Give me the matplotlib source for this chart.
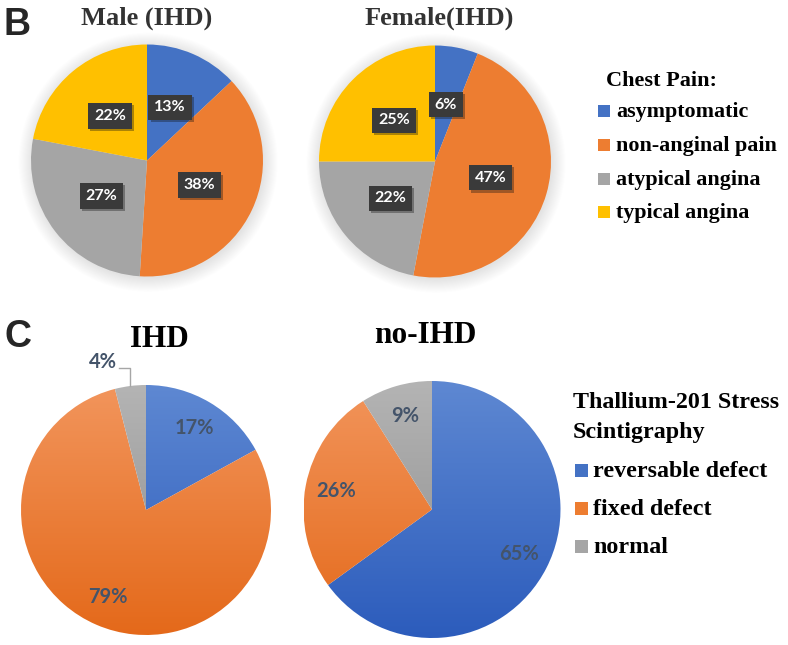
import numpy as np
import matplotlib
matplotlib.use("Agg")
import matplotlib.pyplot as plt
import matplotlib.patheffects as pe
from matplotlib.patches import Rectangle, Circle
from matplotlib.colors import LinearSegmentedColormap

# chart data
chest_pain = ["asymptomatic", "non-anginal pain", "atypical angina", "typical angina"]
male_ihd = [13, 38, 27, 22]
female_ihd = [6, 47, 22, 25]

thallium = ["reversable defect", "fixed defect", "normal"]
ihd = [17, 79, 4]
no_ihd = [65, 26, 9]

chest_colors = ["#4472C4", "#ED7D31", "#A5A5A5", "#FFC000"]
thal_colors = ["#4472C4", "#ED7D31", "#A5A5A5"]
thal_top = ["#5E88D2", "#F2955C", "#B4B4B4"]
thal_bottom = ["#2C5CBC", "#E4691A", "#8C8C8C"]

W, H = 788, 645
SERIF = "Liberation Serif"
SANS = "Liberation Sans"
LBL = ["Lato", "DejaVu Sans"]
M = 1.35  # axes half-width in pie radii

fig = plt.figure(figsize=(W / 100, H / 100), dpi=100)


def fx(x):
    return x / W


def fy(y):
    return 1 - y / H


def pie_axes(cx, cy, r):
    ax = fig.add_axes([fx(cx - M * r), fy(cy + M * r), 2 * M * r / W, 2 * M * r / H])
    return ax


def fix_axes(ax):
    ax.set_xlim(-M, M)
    ax.set_ylim(-M, M)
    ax.set_aspect("equal")
    ax.axis("off")


def chest_pie(cx, cy, r, values):
    ax = pie_axes(cx, cy, r)
    # soft glow behind the pie
    for i in range(14):
        ax.add_patch(Circle((0.01, -0.015), 1 + 0.009 * i, color="k", alpha=0.007, lw=0, zorder=0))
    wedges, _, autotexts = ax.pie(values, colors=chest_colors, startangle=90, counterclock=False,
                                  autopct=lambda p: f"{p:.0f}%", pctdistance=0.5,
                                  wedgeprops=dict(linewidth=0),
                                  textprops=dict(color="white", fontsize=11.5, fontweight="bold", family=LBL))
    for t in autotexts:
        t.set_bbox(dict(boxstyle="square,pad=0.36", fc="#3a3a3a", ec="none"))
        t.get_bbox_patch().set_path_effects([pe.SimplePatchShadow(offset=(1.5, -1.5), alpha=0.35), pe.Normal()])
    fix_axes(ax)
    return ax


def thal_pie(cx, cy, r, values):
    ax = pie_axes(cx, cy, r)
    wedges, _, autotexts = ax.pie(values, startangle=90, counterclock=False,
                                  autopct=lambda p: f"{p:.0f}%", pctdistance=0.76,
                                  textprops=dict(color="#44546A", fontsize=14.5, fontweight="bold", family=LBL))
    grad = np.linspace(0, 1, 256).reshape(-1, 1)
    for w, top, bot in zip(wedges, thal_top, thal_bottom):
        w.set_facecolor("none")
        w.set_edgecolor("none")
        cmap = LinearSegmentedColormap.from_list("g", [top, bot])
        im = ax.imshow(grad, cmap=cmap, extent=(-1, 1, -1, 1), origin="upper", aspect="auto", zorder=0.5)
        im.set_clip_path(w)
    fix_axes(ax)
    return ax, wedges, autotexts


# panel B
chest_pie(147, 160.5, 116, male_ihd)
chest_pie(435, 161.5, 116, female_ihd)
fig.text(fx(147), fy(25), "Male (IHD)", family=SERIF, fontweight="bold", fontsize=19,
         color="#333333", ha="center", va="baseline")
fig.text(fx(439), fy(25), "Female(IHD)", family=SERIF, fontweight="bold", fontsize=19,
         color="#333333", ha="center", va="baseline")
fig.text(fx(4), fy(35), "B", family=SANS, fontweight="bold", fontsize=27, color="#262626",
         ha="left", va="baseline")

fig.text(fx(606), fy(86), "Chest Pain:", family=SERIF, fontweight="bold", fontsize=16,
         color="black", ha="left", va="baseline")
for i, (name, col) in enumerate(zip(chest_pain, chest_colors)):
    base = 117 + 33.8 * i
    fig.patches.append(Rectangle((fx(598), fy(base)), 12 / W, 12 / H, fc=col, ec="none",
                                 transform=fig.transFigure, figure=fig))
    fig.text(fx(616), fy(base), name, family=SERIF, fontweight="bold", fontsize=15.8,
             color="black", ha="left", va="baseline")

# panel C
ax_ihd, w_ihd, t_ihd = thal_pie(146, 510, 125, ihd)
thal_pie(432, 509.5, 128.5, no_ihd)

# small 4% slice gets an outside label with a leader line
w = w_ihd[2]
mid = np.deg2rad((w.theta1 + w.theta2) / 2)
x0, y0 = np.cos(mid), np.sin(mid)
t_ihd[2].set_position((x0 - 0.11, y0 + 0.19))
t_ihd[2].set_ha("right")
ax_ihd.plot([x0, x0, x0 - 0.09], [y0, y0 + 0.145, y0 + 0.145], color="#A6A6A6", lw=1, clip_on=False)

fig.text(fx(159), fy(347), "IHD", family=SERIF, fontweight="bold", fontsize=22.5,
         color="black", ha="center", va="baseline")
fig.text(fx(425.5), fy(343), "no-IHD", family=SERIF, fontweight="bold", fontsize=22.5,
         color="black", ha="center", va="baseline")
fig.text(fx(4), fy(347), "C", family=SANS, fontweight="bold", fontsize=27, color="#262626",
         ha="left", va="baseline")

fig.text(fx(573), fy(408), "Thallium-201 Stress", family=SERIF, fontweight="bold", fontsize=17.3,
         color="black", ha="left", va="baseline")
fig.text(fx(573), fy(438), "Scintigraphy", family=SERIF, fontweight="bold", fontsize=17.3,
         color="black", ha="left", va="baseline")
for i, (name, col) in enumerate(zip(thallium, thal_colors)):
    base = 477 + 38.2 * i
    fig.patches.append(Rectangle((fx(575), fy(base)), 13 / W, 13 / H, fc=col, ec="none",
                                 transform=fig.transFigure, figure=fig))
    fig.text(fx(593), fy(base), name, family=SERIF, fontweight="bold", fontsize=17.3,
             color="black", ha="left", va="baseline")

fig.savefig("out.png", dpi=100, facecolor="white")
plt.close(fig)
